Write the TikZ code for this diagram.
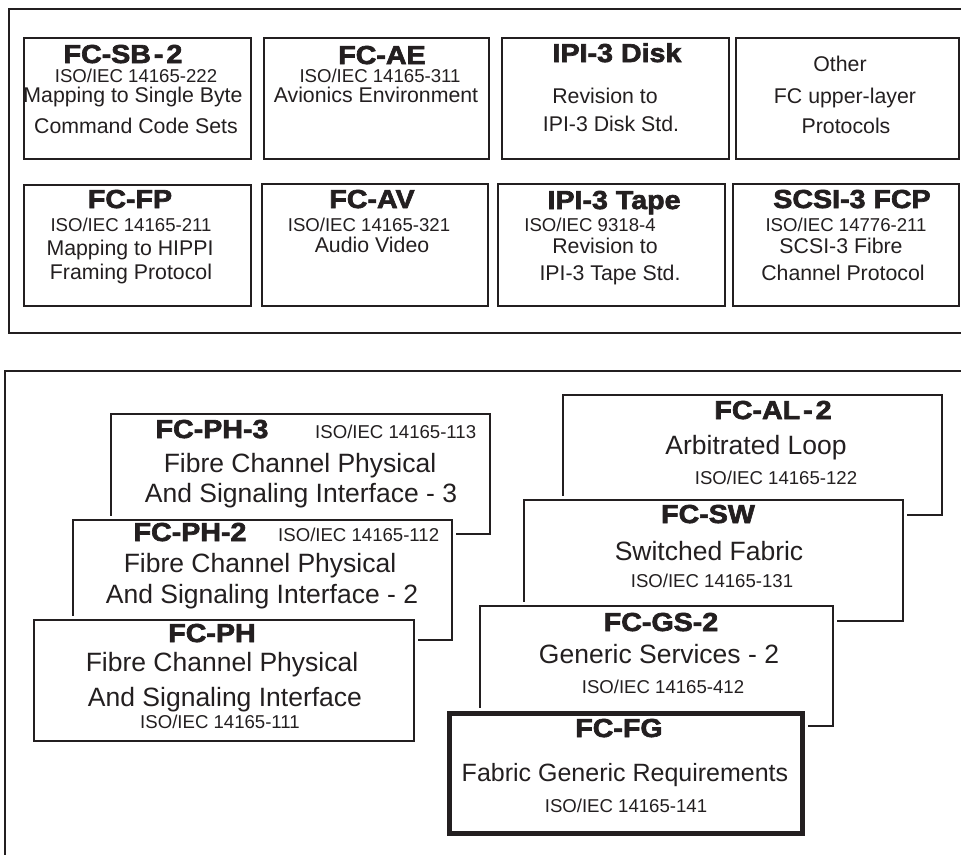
\documentclass[tikz,border=0pt]{standalone}
\usepackage{fontspec}
\setmainfont{Liberation Sans}
\newfontfamily\heavyfont{Liberation Sans Bold}[FakeBold=2.5,FakeStretch=1.1]
\definecolor{ink}{RGB}{35,31,32}
\newcommand\fcbox[6][]{\node[box,#1,minimum width=#4pt-#2pt,minimum height=#5pt-#3pt] (#6) at (#2,#3) {};}
\newcommand\tx[5]{\node[#1,anchor=base] (#2) at (#3,#4) {#5};}
\begin{document}
\begin{tikzpicture}[x=1pt,y=-1pt,
  box/.style={draw=ink,line width=2pt,fill=white,inner sep=0pt,anchor=north west,
    preaction={draw=white,line width=8pt}},
  thickbox/.style={line width=4.5pt,preaction={draw=white,line width=11pt}},
  frame/.style={draw=ink,line width=2pt},
  txt/.style={text=ink,inner sep=0pt},
  ttl/.style={txt,font=\heavyfont\fontsize{26}{28}\selectfont},
  iso/.style={txt,font=\fontsize{18.6}{20}\selectfont},
  sm/.style={txt,font=\fontsize{21.3}{24}\selectfont},
  big/.style={txt,font=\fontsize{26.5}{30}\selectfont},
  mid/.style={txt,font=\fontsize{25}{28}\selectfont}]
\useasboundingbox (0,0) rectangle (961,855);
% frames
\coordinate (ftr) at (961,9);
\coordinate (ftl) at (9,9);
\coordinate (fbl) at (9,333);
\coordinate (fbr) at (961,333);
\draw[frame,line width=2.5pt] (ftr) -- (ftl) -- (fbl) -- (fbr);
\coordinate (gtr) at (961,371);
\coordinate (gtl) at (5,371);
\coordinate (gbl) at (5,855);
\draw[frame] (gtr) -- (gtl) -- (gbl);
% top boxes
\fcbox{23}{37}{250}{158}{sb}
\fcbox{263}{37}{488}{158}{ae}
\fcbox{501}{37}{728}{158}{disk}
\fcbox{735}{37}{958}{158}{other}
\fcbox{23}{184}{250}{305}{fp}
\fcbox{261}{183}{487}{305}{av}
\fcbox{497}{183}{724}{305}{tape}
\fcbox{732}{183}{958}{305}{scsi}
% top texts
\tx{ttl}{sbT}{123}{63}{FC-SB\kern3pt-\kern3pt2}
\tx{iso}{sbI}{136}{82.5}{ISO/IEC 14165-222}
\tx{sm}{sbA}{133}{102}{Mapping to Single Byte}
\tx{sm}{sbB}{136}{133}{Command Code Sets}
\tx{ttl}{aeT}{382}{64}{FC-AE}
\tx{iso}{aeI}{380}{82}{ISO/IEC 14165-311}
\tx{sm}{aeA}{376}{102}{Avionics Environment}
\tx{ttl}{diskT}{617}{62}{IPI-3 Disk}
\tx{sm}{diskA}{605}{103}{Revision to}
\tx{sm}{diskB}{611}{131}{IPI-3 Disk Std.}
\tx{sm}{otherA}{840}{71}{Other}
\tx{sm}{otherB}{845}{103}{FC upper-layer}
\tx{sm}{otherC}{846}{133}{Protocols}
\tx{ttl}{fpT}{130}{208}{FC-FP}
\tx{iso}{fpI}{131}{231}{ISO/IEC 14165-211}
\tx{sm}{fpA}{130}{255}{Mapping to HIPPI}
\tx{sm}{fpB}{131}{279}{Framing Protocol}
\tx{ttl}{avT}{372}{208}{FC-AV}
\tx{iso}{avI}{369}{231}{ISO/IEC 14165-321}
\tx{sm}{avA}{372}{252}{Audio Video}
\tx{ttl}{tapeT}{614}{209}{IPI-3 Tape}
\tx{iso}{tapeI}{590}{231}{ISO/IEC 9318-4}
\tx{sm}{tapeA}{605}{253}{Revision to}
\tx{sm}{tapeB}{610}{280}{IPI-3 Tape Std.}
\tx{ttl}{scsiT}{852}{208}{SCSI-3 FCP}
\tx{iso}{scsiI}{846}{231}{ISO/IEC 14776-211}
\tx{sm}{scsiA}{841}{253}{SCSI-3 Fibre}
\tx{sm}{scsiB}{843}{280}{Channel Protocol}
% bottom left stack
\fcbox{110}{413}{489}{533}{ph3}
\tx{ttl}{ph3T}{212}{438}{FC-PH-3}
\node[iso,anchor=base west] (ph3I) at (315,438) {ISO/IEC 14165-113};
\tx{big}{ph3A}{300}{472}{Fibre Channel Physical}
\tx{big}{ph3B}{301}{502}{And Signaling Interface - 3}
\fcbox{72}{519}{451}{639}{ph2}
\tx{ttl}{ph2T}{190}{541}{FC-PH-2}
\node[iso,anchor=base west] (ph2I) at (278,541) {ISO/IEC 14165-112};
\tx{big}{ph2A}{260}{572}{Fibre Channel Physical}
\tx{big}{ph2B}{262}{603}{And Signaling Interface - 2}
\fcbox{33}{619}{413}{740}{ph}
\tx{ttl}{phT}{212}{642}{FC-PH}
\tx{big}{phA}{222}{671}{Fibre Channel Physical}
\tx{big}{phB}{225}{706}{And Signaling Interface}
\tx{iso}{phI}{220}{728}{ISO/IEC 14165-111}
% bottom right stack
\fcbox{562}{394}{941}{514}{al}
\tx{ttl}{alT}{773}{419}{FC-AL\kern3pt-\kern3pt2}
\tx{big}{alA}{756}{454}{Arbitrated Loop}
\tx{iso}{alI}{776}{484}{ISO/IEC 14165-122}
\fcbox{523}{499}{902}{620}{sw}
\tx{ttl}{swT}{708}{523}{FC-SW}
\tx{big}{swA}{709}{560}{Switched Fabric}
\tx{iso}{swI}{712}{587}{ISO/IEC 14165-131}
\fcbox{479}{605}{832}{725}{gs}
\tx{ttl}{gsT}{661}{631}{FC-GS-2}
\tx{big}{gsA}{659}{663}{Generic Services - 2}
\tx{iso}{gsI}{663}{693}{ISO/IEC 14165-412}
\fcbox[thickbox]{447}{711}{800}{831}{fg}
\tx{ttl}{fgT}{619}{737}{FC-FG}
\tx{mid}{fgA}{625}{781}{Fabric Generic Requirements}
\tx{iso}{fgI}{626}{812}{ISO/IEC 14165-141}
\end{tikzpicture}
\end{document}
